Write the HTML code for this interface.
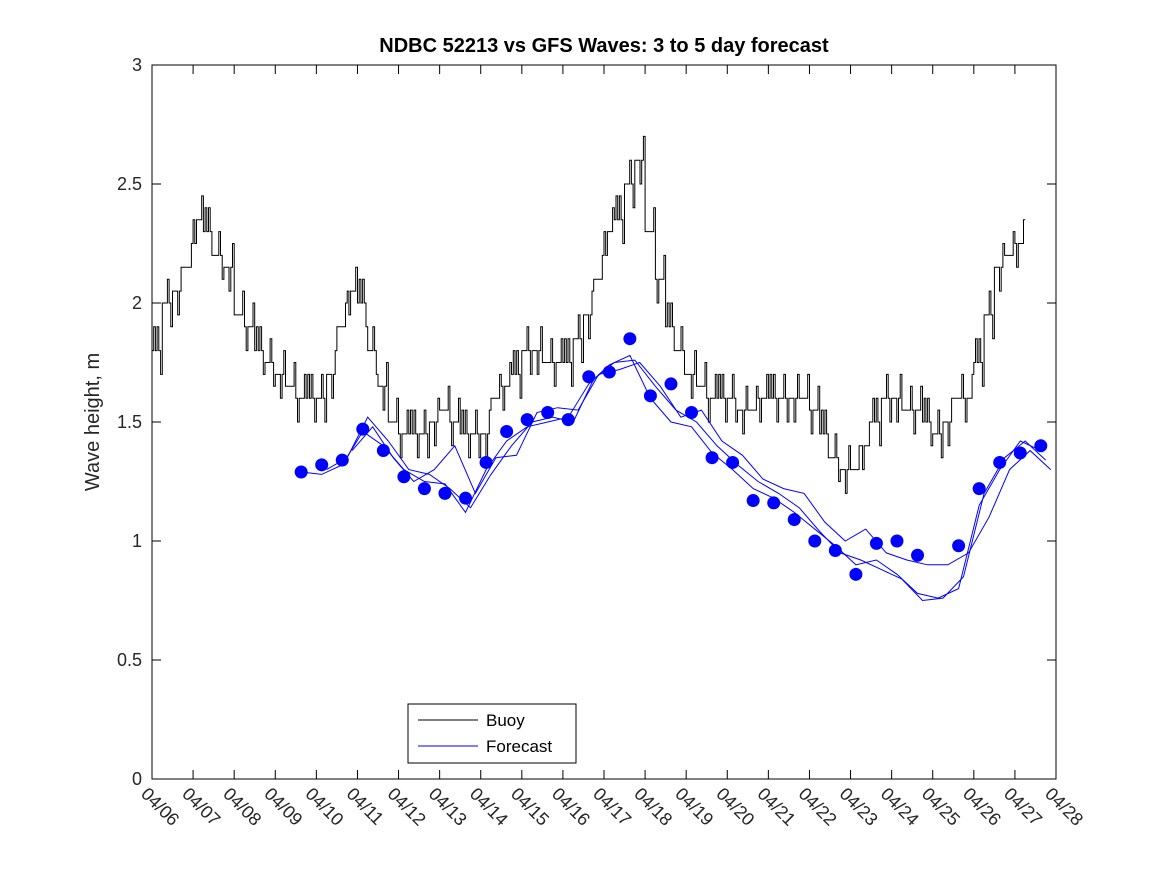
<!DOCTYPE html>
<html><head><meta charset="utf-8"><style>
body{margin:0;background:#fff}
svg{font-family:"Liberation Sans",sans-serif}
</style></head><body>
<svg id="c" width="1167" height="875" xmlns="http://www.w3.org/2000/svg">
<rect width="1167" height="875" fill="#fff"/>
<rect x="152" y="65" width="904" height="714" fill="#fff" stroke="#000" stroke-width="1"/>
<text x="604" y="52" text-anchor="middle" font-size="20" font-weight="bold">NDBC 52213 vs GFS Waves: 3 to 5 day forecast</text>
<text transform="translate(99,422) rotate(-90)" text-anchor="middle" font-size="20" fill="#262626">Wave height, m</text>
<g id="ticks"></g>
<g id="series"></g>
<g>
<rect x="408" y="704" width="168" height="59" fill="#fff" stroke="#000"/>
<line x1="418" y1="720" x2="478" y2="720" stroke="#000"/>
<text x="486" y="726" font-size="17">Buoy</text>
<line x1="418" y1="746" x2="478" y2="746" stroke="#00f"/>
<text x="486" y="752" font-size="17">Forecast</text>
</g>
</svg>
<script>
const xLabels=["04/06","04/07","04/08","04/09","04/10","04/11","04/12","04/13","04/14","04/15","04/16","04/17","04/18","04/19","04/20","04/21","04/22","04/23","04/24","04/25","04/26","04/27","04/28"];
const yTicks=[0,0.5,1,1.5,2,2.5,3];
// buoy, quarter-day steps from 04/06
const buoy=[1.8,2.0,2.05,2.15, 2.35,2.3,2.2,2.15, 1.95,1.9,1.8,1.75, 1.7,1.65,1.6,1.6, 1.6,1.7,1.9,2.05, 2.0,1.8,1.65,1.5, 1.45,1.45,1.45,1.5, 1.55,1.5,1.45,1.45, 1.45,1.6,1.65,1.7, 1.8,1.8,1.75,1.75, 1.75,1.85,1.95,2.1, 2.3,2.35,2.5,2.6, 2.3,2.1,1.9,1.8, 1.7,1.65,1.6,1.6, 1.6,1.55,1.55,1.6, 1.6,1.6,1.6,1.6, 1.55,1.45,1.35,1.3, 1.3,1.4,1.5,1.6, 1.6,1.55,1.55,1.5, 1.45,1.5,1.6,1.6, 1.75,1.95,2.15,2.2, 2.25];
const buoyNoise=[0,0.1,-0.1,0.1,0,-0.1,0.1,0,-0.1,0.1,0,-0.1,0.1,0,0.1,-0.1,0,0.1,-0.1,0,0.1,0,-0.1,0.1,0,-0.1,0.1,0,-0.1,0.1];
// forecast dots, half-day from 04/09.63
const dots=[1.29,1.32,1.34,1.47,1.38,1.27,1.22,1.20,1.18,1.33,1.46,1.51,1.54,1.51,1.69,1.71,1.85,1.61,1.66,1.54,1.35,1.33,1.17,1.16,1.09,1.00,0.96,0.86,0.99,1.00,0.94,null,0.98,1.22,1.33,1.37,1.40];
const line1=[1.29,1.28,1.32,1.46,1.40,1.30,1.25,1.24,1.12,1.30,1.42,1.48,1.50,1.52,1.66,1.74,1.78,1.60,1.50,1.48,1.37,1.30,1.22,1.18,1.12,1.05,0.98,0.90,0.92,0.86,0.78,0.76,0.80,1.15,1.30,1.42,1.38];
const line2=[null,1.30,1.35,1.52,1.42,1.30,1.28,1.22,1.14,1.28,1.40,1.50,1.52,1.50,1.68,1.75,1.76,1.65,1.55,1.50,1.40,1.32,1.25,1.20,1.14,1.04,0.95,0.92,0.88,0.84,0.75,0.76,0.85,1.20,1.35,1.42,1.34];
const line3=[null,null,1.38,1.48,1.35,1.25,1.30,1.40,1.20,1.35,1.36,1.54,1.56,1.55,1.70,1.72,1.75,1.65,1.52,1.55,1.42,1.36,1.26,1.22,1.20,1.08,1.00,1.05,0.95,0.92,0.90,0.90,0.95,1.10,1.30,1.38,1.30];
const X0=152,X1=1056,Y0=779,Y1=65;
const x=d=>X0+d*(X1-X0)/22, y=v=>Y0-v*(Y0-Y1)/3;
const NS="http://www.w3.org/2000/svg";
function mk(t,a,p){const e=document.createElementNS(NS,t);for(const k in a)e.setAttribute(k,a[k]);p.appendChild(e);return e;}
const T=document.getElementById('ticks'),S=document.getElementById('series');
xLabels.forEach((l,i)=>{const xx=x(i);
const t1=mk('line',{x1:xx,y1:Y0,x2:xx,y2:Y0-9,stroke:'#000'},T);


const t2=mk('line',{x1:xx,y1:Y1,x2:xx,y2:Y1+9,stroke:'#000'},T);


const tx=mk('text',{transform:`translate(${xx-12},${Y0+16}) rotate(45)`,'font-size':18,fill:'#262626'},T);tx.textContent=l;

});
yTicks.forEach(v=>{const yy=y(v);
const t1=mk('line',{x1:X0,y1:yy,x2:X0+9,y2:yy,stroke:'#000'},T);


const t2=mk('line',{x1:X1,y1:yy,x2:X1-9,y2:yy,stroke:'#000'},T);


const tx=mk('text',{x:X0-10,y:yy+6,'text-anchor':'end','font-size':18,fill:'#262626'},T);tx.textContent=String(v);

});
let d='';const sub=6;
buoy.forEach((v,i)=>{for(let k=0;k<sub;k++){const t=(i+k/sub)/4;const n=buoyNoise[(i*sub+k)%buoyNoise.length]*(k%2);const vv=v+n;
d+=(d?'L':'M')+x(t).toFixed(1)+','+y(vv).toFixed(1)+'L'+x(t+1/(4*sub)).toFixed(1)+','+y(vv).toFixed(1);}});
const bp=mk('path',{d:d,fill:'none',stroke:'#000','stroke-width':1},S);


const t0=3.63;
[line1,line2,line3].forEach((arr,j)=>{let p='';arr.forEach((v,i)=>{if(v==null)return;p+=(p?'L':'M')+x(t0+i*0.5+j*0.12).toFixed(1)+','+y(v).toFixed(1);});
const lp=mk('path',{d:p,fill:'none',stroke:'#00f','stroke-width':1},S);

});
dots.forEach((v,i)=>{if(v==null)return;const c=mk('circle',{cx:x(t0+i*0.5),cy:y(v),r:6.5,fill:'#00f'},S);

});
</script>
</body></html>
